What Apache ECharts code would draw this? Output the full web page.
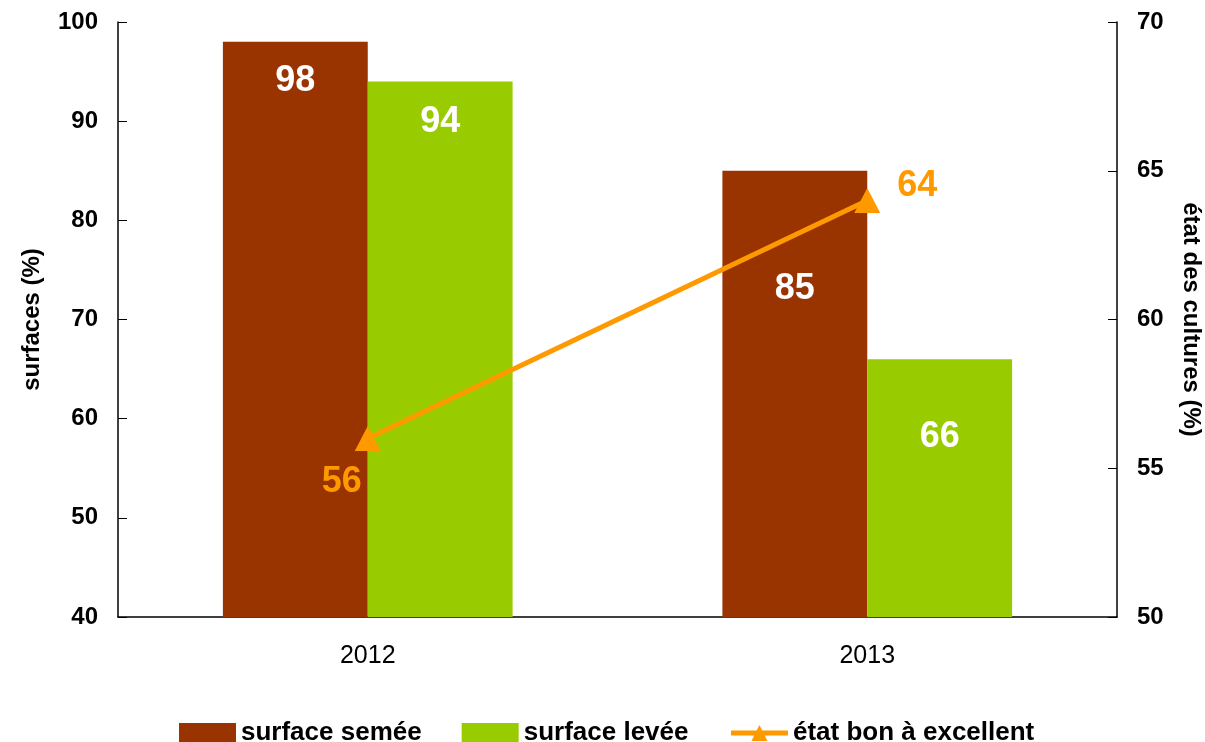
<!DOCTYPE html>
<html>
<head>
<meta charset="utf-8">
<script src="https://cdn.jsdelivr.net/npm/echarts@6/dist/echarts.min.js"></script>
<style>html,body{margin:0;padding:0;background:#fff}#c{width:1205px;height:742px}</style>
</head>
<body>
<div id="c"></div>
<script>
const categories = ['2012', '2013'];
const surfaceSemee = [98, 85];
const surfaceLevee = [94, 66];
const etatBon = [56, 64];
const leftTicks = [40, 100, 10];
const rightTicks = [50, 70, 5];

const semeeDist = [21, 100];
const leveeDist = [23, 60];
const lineOffsets = [[-26, 44], [50, -14]];

const FONT = '"Liberation Sans", Arial, sans-serif';
const chart = echarts.init(document.getElementById('c'));
chart.setOption({
  animation: false,
  textStyle: { fontFamily: FONT },
  grid: { left: 118, right: 88, top: 22, bottom: 125, containLabel: false, outerBoundsMode: 'none' },
  legend: {
    top: 715, left: 174, itemGap: 40, itemWidth: 57, itemHeight: 20,
    textStyle: { fontSize: 26, fontWeight: 'bold', color: '#000', fontFamily: FONT },
    data: [
      { name: 'surface semée', icon: 'rect' },
      { name: 'surface levée', icon: 'rect' },
      { name: 'état bon à excellent', lineStyle: { width: 5, color: '#FF9900' } }
    ]
  },
  xAxis: {
    type: 'category', data: categories,
    axisLine: { lineStyle: { color: '#000', width: 1.5 } },
    axisTick: { show: false },
    axisLabel: { fontSize: 25, color: '#000', margin: 27, fontFamily: FONT }
  },
  yAxis: [{
    type: 'value', min: leftTicks[0], max: leftTicks[1], interval: leftTicks[2],
    name: 'surfaces (%)', nameLocation: 'middle', nameGap: 74, nameRotate: 90,
    nameTextStyle: { fontSize: 24, fontWeight: 'bold', color: '#000', fontFamily: FONT },
    axisLine: { show: true, lineStyle: { color: '#000', width: 1.5 } },
    axisTick: { show: true, inside: true, length: 9, lineStyle: { color: '#000' } },
    axisLabel: { fontSize: 24, fontWeight: 'bold', color: '#000', margin: 20, fontFamily: FONT },
    splitLine: { show: false }
  }, {
    type: 'value', min: rightTicks[0], max: rightTicks[1], interval: rightTicks[2],
    position: 'right',
    name: 'état des cultures (%)', nameLocation: 'middle', nameGap: 62, nameRotate: -90,
    nameTextStyle: { fontSize: 24, fontWeight: 'bold', color: '#000', fontFamily: FONT },
    axisLine: { show: true, lineStyle: { color: '#000', width: 1.5 } },
    axisTick: { show: true, inside: true, length: 9, lineStyle: { color: '#000' } },
    axisLabel: { fontSize: 24, fontWeight: 'bold', color: '#000', margin: 20, fontFamily: FONT },
    splitLine: { show: false }
  }],
  series: [{
    name: 'surface semée', type: 'bar', barGap: '0%', barCategoryGap: '42%',
    itemStyle: { color: '#993300' },
    data: surfaceSemee.map((v, i) => ({
      value: v,
      label: { show: true, position: 'insideTop', distance: semeeDist[i], color: '#fff', fontSize: 36, fontWeight: 'bold', fontFamily: FONT }
    }))
  }, {
    name: 'surface levée', type: 'bar',
    itemStyle: { color: '#99CC00' },
    data: surfaceLevee.map((v, i) => ({
      value: v,
      label: { show: true, position: 'insideTop', distance: leveeDist[i], color: '#fff', fontSize: 36, fontWeight: 'bold', fontFamily: FONT }
    }))
  }, {
    name: 'état bon à excellent', type: 'line', yAxisIndex: 1,
    symbol: 'triangle', symbolSize: [26, 25],
    lineStyle: { color: '#FF9900', width: 5 },
    itemStyle: { color: '#FF9900' },
    z: 5,
    data: etatBon.map((v, i) => ({
      value: v,
      label: { show: true, position: 'inside', offset: lineOffsets[i], color: '#FF9900', fontSize: 36, fontWeight: 'bold', fontFamily: FONT }
    }))
  }]
});
</script>
</body>
</html>
